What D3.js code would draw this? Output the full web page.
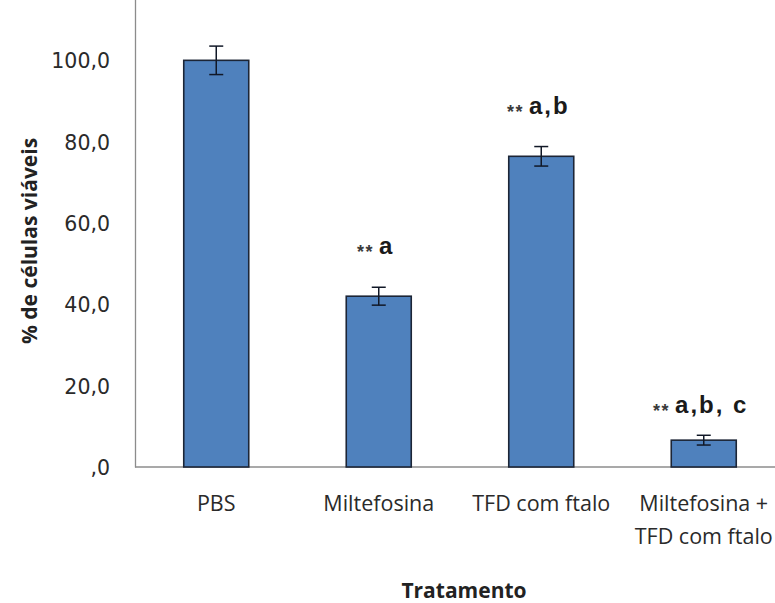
<!DOCTYPE html>
<html>
<head>
<meta charset="utf-8">
<script src="https://cdn.jsdelivr.net/npm/d3@7/dist/d3.min.js"></script>
<style>
  html, body { margin: 0; padding: 0; background: #fff; }
  svg { display: block; }
</style>
</head>
<body>
<svg id="chart" width="775" height="603"></svg>
<script>
// Viability of cells per treatment (mean ± error)
const categories = [["PBS"], ["Miltefosina"], ["TFD com ftalo"], ["Miltefosina +", "TFD com ftalo"]];
const values = [100.0, 42.0, 76.4, 6.6];
const errors = [3.5, 2.2, 2.4, 1.2];
const stars = ["", "**", "**", "**"];
const letters = ["", "a", "a,b", "a,b, c"];
const yTicks = [0, 20, 40, 60, 80, 100];

// layout
const plotLeft = 135, plotRight = 785, plotTop = -21, plotBottom = 467;
const labelGap = [0, 33, 33, 22];   // distance of significance labels above the error bars

const svg = d3.select("#chart");

const x = d3.scaleBand()
  .domain(d3.range(values.length))
  .range([plotLeft, plotRight])
  .paddingInner(0.6)
  .paddingOuter(0.3);

const y = d3.scaleLinear().domain([0, 120]).range([plotBottom, plotTop]);

const fmt = v => v === 0 ? ",0" : d3.format(".1f")(v).replace(".", ",");

// y axis (line only, labels to the left)
const yAxis = d3.axisLeft(y).tickValues(yTicks).tickSize(0).tickPadding(25).tickFormat(fmt);
const gy = svg.append("g").attr("transform", `translate(${plotLeft},0)`).call(yAxis);
gy.select(".domain").attr("stroke", "#8c8c8c").attr("stroke-width", 1.3);
gy.selectAll("text")
  .attr("font-family", "'DejaVu Sans', sans-serif")
  .attr("font-size", 20.5)
  .attr("fill", "#2a2a2a")
  .attr("dy", "0.36em");

// baseline
svg.append("line")
  .attr("x1", plotLeft).attr("x2", 775)
  .attr("y1", plotBottom).attr("y2", plotBottom)
  .attr("stroke", "#8c8c8c").attr("stroke-width", 1.5);

// bars
svg.append("g").selectAll("rect")
  .data(values)
  .join("rect")
  .attr("x", (d, i) => x(i))
  .attr("y", d => y(d))
  .attr("width", x.bandwidth())
  .attr("height", d => plotBottom - y(d))
  .attr("fill", "#4f81bd")
  .attr("stroke", "#1c2536")
  .attr("stroke-width", 1.6);

// error bars
const eg = svg.append("g").attr("stroke", "#111827").attr("stroke-width", 1.5);
values.forEach((v, i) => {
  const cx = x(i) + x.bandwidth() / 2;
  const y1 = y(v + errors[i]), y2 = y(v - errors[i]);
  eg.append("line").attr("x1", cx).attr("x2", cx).attr("y1", y1).attr("y2", y2);
  eg.append("line").attr("x1", cx - 7).attr("x2", cx + 7).attr("y1", y1).attr("y2", y1);
  eg.append("line").attr("x1", cx - 7).attr("x2", cx + 7).attr("y1", y2).attr("y2", y2);
});

// significance labels
values.forEach((v, i) => {
  if (!letters[i]) return;
  const cx = x(i) + x.bandwidth() / 2 - 3;
  const t = svg.append("text")
    .attr("x", cx)
    .attr("y", y(v + errors[i]) - labelGap[i])
    .attr("text-anchor", "middle")
    .attr("font-family", "'Liberation Sans', Arial, sans-serif")
    .attr("fill", "#1a1a1a");
  t.append("tspan").attr("font-size", 18).attr("font-weight", "bold")
    .attr("letter-spacing", 1.5).attr("fill", "#3a3a3a").attr("dy", 4).text(stars[i]);
  t.append("tspan").attr("font-size", 24).attr("font-weight", "bold")
    .attr("letter-spacing", 2).attr("dx", 5).attr("dy", -4).text(letters[i]);
});

// category labels
categories.forEach((lines, i) => {
  const cx = x(i) + x.bandwidth() / 2;
  const t = svg.append("text")
    .attr("text-anchor", "middle")
    .attr("font-family", "'Open Sans', sans-serif")
    .attr("font-size", 21.5)
    .attr("fill", "#2a2a2a");
  lines.forEach((s, k) => {
    t.append("tspan").attr("x", cx).attr("y", 511 + k * 33).text(s);
  });
});

// axis titles
svg.append("text")
  .attr("x", 464).attr("y", 598)
  .attr("text-anchor", "middle")
  .attr("font-family", "'Open Sans', sans-serif")
  .attr("font-weight", "bold")
  .attr("font-size", 21)
  .attr("fill", "#222")
  .text("Tratamento");

svg.append("text")
  .attr("transform", "translate(37,241) rotate(-90)")
  .attr("text-anchor", "middle")
  .attr("font-family", "'Open Sans', sans-serif")
  .attr("font-weight", "bold")
  .attr("font-size", 21)
  .attr("fill", "#222")
  .text("% de células viáveis");
</script>
</body>
</html>
